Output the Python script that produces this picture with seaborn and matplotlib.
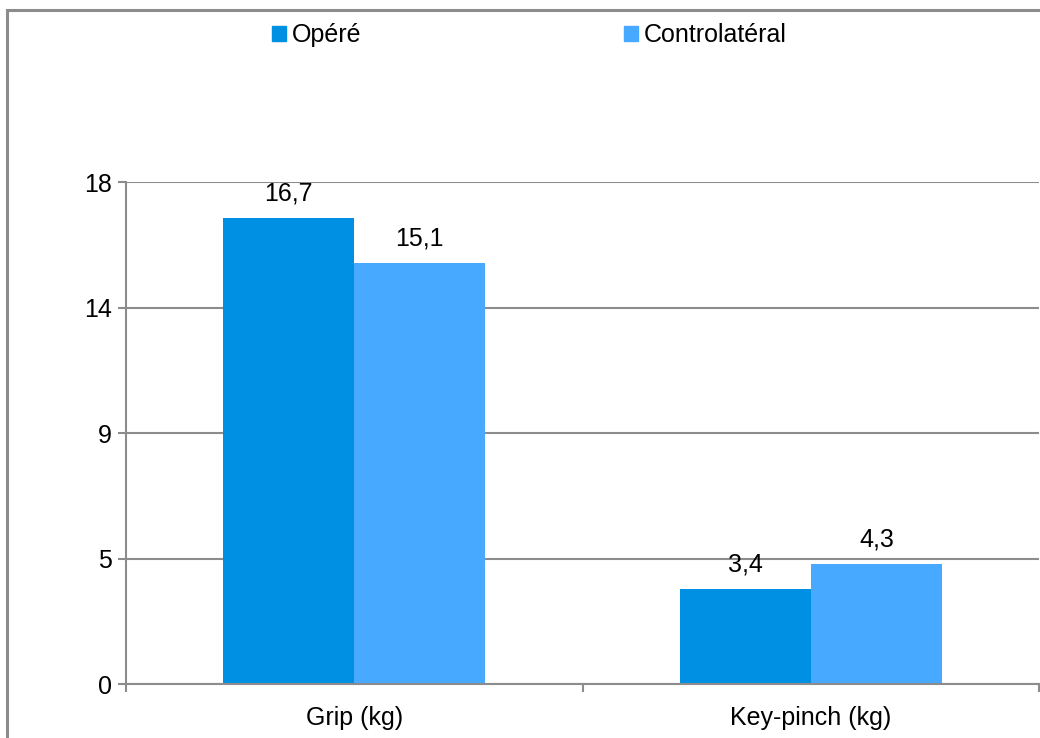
import pandas as pd
import matplotlib.pyplot as plt
import seaborn as sns
from matplotlib.patches import Rectangle

# Données du graphique
categories = ['Grip (kg)', 'Key-pinch (kg)']
series = ['Opéré', 'Controlatéral']
opere = [16.7, 3.4]
controlateral = [15.1, 4.3]
yticks = [0, 4.5, 9, 13.5, 18]
ytick_labels = ['0', '5', '9', '14', '18']

couleurs = ['#0090E3', '#47A9FF']
gris = '#8C8C8C'

df = pd.DataFrame({
    'Test': categories * 2,
    'Côté': [series[0]] * 2 + [series[1]] * 2,
    'Valeur': opere + controlateral,
})

sns.set_style('white')
plt.rcParams['font.family'] = ['Liberation Sans', 'DejaVu Sans']
plt.rcParams['text.color'] = 'black'
plt.rcParams['xtick.labelcolor'] = 'black'
plt.rcParams['ytick.labelcolor'] = 'black'

fig = plt.figure(figsize=(10.4, 7.38), dpi=100)
ax = fig.add_axes([126 / 1040, 1 - 684 / 738, 913 / 1040, (684 - 182) / 738])

sns.barplot(data=df, x='Test', y='Valeur', hue='Côté', order=categories,
            hue_order=series, palette=couleurs, width=0.575, saturation=1,
            edgecolor='none', linewidth=0, ax=ax, legend=False)

# Étiquettes de données
for cont in ax.containers:
    for bar in cont:
        h = bar.get_height()
        ax.annotate(f'{h:.1f}'.replace('.', ','),
                    (bar.get_x() + bar.get_width() / 2, h),
                    xytext=(0, 12.5), textcoords='offset points',
                    ha='center', va='baseline', fontsize=18, color='black')

# Axes
ax.set_ylim(0, 18)
ax.set_xlim(-0.5, 1.5)
ax.set_yticks(yticks)
ax.set_yticklabels(ytick_labels)
ax.yaxis.grid(True, color=gris, linewidth=1.5)
ax.set_axisbelow(True)
ax.set_xlabel('')
ax.set_ylabel('')

ax.set_xticks([-0.5, 0.5, 1.5], minor=True)
ax.tick_params(axis='x', which='major', length=0, pad=16, labelsize=18, labelcolor='black')
ax.tick_params(axis='x', which='minor', length=6, width=1.5, color=gris, direction='out')
ax.tick_params(axis='y', length=6, width=1.5, color=gris, direction='out', pad=4,
               labelsize=18, labelcolor='black')
ax.tick_params(bottom=True, left=True, which='both')

for s in ['top', 'right']:
    ax.spines[s].set_visible(False)
for s in ['left', 'bottom']:
    ax.spines[s].set_color(gris)
    ax.spines[s].set_linewidth(1.5)

# Légende
handles = [Rectangle((0, 0), 1, 1, color=c) for c in couleurs]
leg = fig.legend(handles, series, loc='center left', bbox_to_anchor=(262 / 1040, 1 - 35 / 738),
                 ncol=2, frameon=False, fontsize=18, handlelength=0.55, handleheight=0.55,
                 handletextpad=0.25, columnspacing=10.5, borderaxespad=0)
for t in leg.get_texts():
    t.set_color('black')

# Cadre extérieur
fig.patches.append(Rectangle((6.5 / 1040, -0.2), 1.5, 1.2 - 9.5 / 738,
                             transform=fig.transFigure, fill=False,
                             edgecolor=gris, linewidth=2.2, clip_on=False))

plt.savefig('out.png', dpi=100)
